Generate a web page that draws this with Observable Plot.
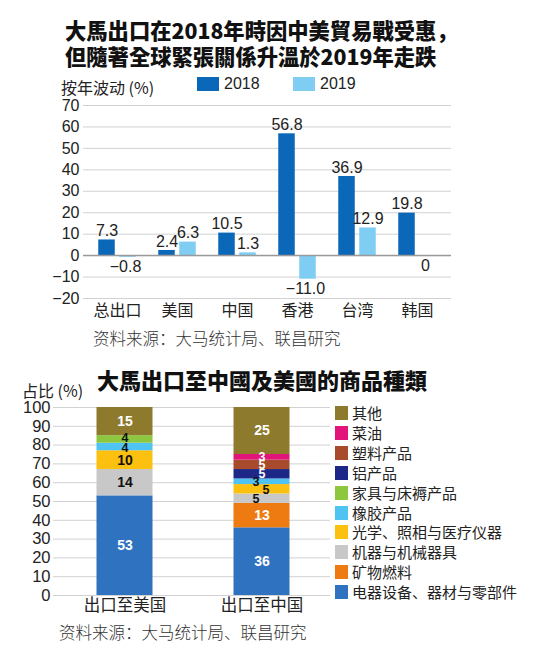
<!DOCTYPE html>
<html>
<head>
<meta charset="utf-8">
<script src="https://cdn.jsdelivr.net/npm/d3@7"></script>
<script src="https://cdn.jsdelivr.net/npm/@observablehq/plot@0.6"></script>
<style>
  html, body { margin: 0; padding: 0; background: #fff; }
  #root { position: relative; width: 534px; height: 657px; overflow: hidden; background: #fff;
          font-family: "Liberation Sans", "Noto Sans CJK SC", sans-serif; color: #222; }
  .abs { position: absolute; white-space: nowrap; line-height: 1; }
  .title { font-family: "Noto Sans CJK TC", "Noto Sans CJK SC", sans-serif; font-weight: 900; font-size: 21.3px; color: #111; }
  .title .p { font-family: "Noto Sans CJK SC", sans-serif; }
  .src { font-family: "Noto Sans CJK SC", sans-serif; font-size: 16.5px; color: #333; font-weight: 300; }
  .sw { position: absolute; }
  #chart1, #chart2 { position: absolute; left: 0; }
  #chart1 { top: 90px; }
  #chart2 { top: 395px; }
</style>
</head>
<body>
<div id="root">
  <div class="abs title" style="left:65px; top:19px;">大馬出口在2018年時因中美貿易戰受惠<span class="p">，</span></div>
  <div class="abs title" style="left:65px; top:45px;">但隨著全球緊張關係升溫於2019年走跌</div>
  <div class="abs" style="left:61px; top:79px; font-size:16px; font-family:'Noto Sans CJK SC','Liberation Sans',sans-serif;">按年波动 (%)</div>
  <div id="legend1"></div>
  <div id="chart1"></div>
  <div class="abs src" style="left:93px; top:330px;">资料来源：大马统计局、联昌研究</div>
  <div class="abs title" style="left:97px; top:368px; font-size:22px;">大馬出口至中國及美國的商品種類</div>
  <div class="abs" style="left:22px; top:382px; font-size:16px; font-family:'Noto Sans CJK SC','Liberation Sans',sans-serif;">占比 (%)</div>
  <div id="chart2"></div>
  <div id="legend2"></div>
  <div class="abs src" style="left:59px; top:624px;">资料来源：大马统计局、联昌研究</div>
</div>
<script>
// ---------- Data: chart 1 ----------
const categories = ["总出口", "美国", "中国", "香港", "台湾", "韩国"];
const years = ["2018", "2019"];
const values2018 = [7.3, 2.4, 10.5, 56.8, 36.9, 19.8];
const values2019 = [-0.8, 6.3, 1.3, -11.0, 12.9, 0];
const yTicks1 = [-20, -10, 0, 10, 20, 30, 40, 50, 60, 70];

// ---------- Data: chart 2 ----------
const countries = ["出口至美国", "出口至中国"];
const productSeries = ["电器设备、器材与零部件", "矿物燃料", "机器与机械器具", "光学、照相与医疗仪器", "橡胶产品", "家具与床褥产品", "铝产品", "塑料产品", "菜油", "其他"];
const usShares = [53, 0, 14, 10, 4, 4, 0, 0, 0, 15];
const cnShares = [36, 13, 5, 5, 3, 0, 5, 5, 3, 25];
const yTicks2 = [0, 10, 20, 30, 40, 50, 60, 70, 80, 90, 100];

// ---------- Styles ----------
const yearColors = ["#0b67b8", "#7fcdf2"];
const productColors = ["#2f72bf", "#ee7b11", "#c8c8c8", "#fcc010", "#4fc3f2", "#8dc63f", "#1d2788", "#a84a2c", "#e2157a", "#8e7a2d"];
const darkLabelSeries = new Set(["机器与机械器具", "光学、照相与医疗仪器", "橡胶产品", "家具与床褥产品"]);
const labelShift = {
  "出口至中国|橡胶产品": [-6, 0], "出口至中国|光学、照相与医疗仪器": [4, 1], "出口至中国|机器与机械器具": [-6, 0],
  "出口至美国|家具与床褥产品": [0, -1], "出口至美国|橡胶产品": [0, 1]
};
const fontFam = "'Liberation Sans', 'Noto Sans CJK SC', sans-serif";

// ---------- Chart 1 ----------
const rows1 = categories.flatMap((c, i) => [
  {cat: c, year: years[0], v: values2018[i]},
  {cat: c, year: years[1], v: values2019[i]}
]);
const fmt = v => v === 0 ? "0" : (v < 0 ? "\u2212" : "") + Math.abs(v).toFixed(1);
const r2018 = rows1.filter(d => d.year === years[0]);
const r2019 = rows1.filter(d => d.year === years[1]);

const chart1 = Plot.plot({
  width: 534, height: 235,
  marginTop: 15, marginBottom: 27, marginLeft: 83, marginRight: 83,
  style: {fontFamily: fontFam, fontSize: "16px", color: "#222", background: "transparent", overflow: "visible"},
  x: {domain: categories, range: [85, 448], padding: 0, label: null},
  y: {domain: [-20, 70], label: null},
  color: {domain: years, range: yearColors},
  marks: [
    Plot.gridY({ticks: yTicks1, stroke: "#d2d2d2", strokeOpacity: 1}),
    Plot.axisY({ticks: yTicks1, tickSize: 0, tickPadding: 4, fontSize: 16, label: null}),
    Plot.axisX({tickSize: 0, tickPadding: 6, fontSize: 16, label: null}),
    Plot.barY(r2018, {x: "cat", y: "v", fill: "year", insetLeft: 11.25, insetRight: 32.25}),
    Plot.barY(r2019, {x: "cat", y: "v", fill: "year", insetLeft: 32.25, insetRight: 11.25}),
    Plot.ruleY([0], {stroke: "#9a9a9a", strokeWidth: 1.5}),
    Plot.text(r2018.filter(d => d.v > 0), {x: "cat", y: "v", text: d => fmt(d.v), dx: -10.5, dy: -9, fontSize: 16, fill: "#222"}),
    Plot.text(r2018.filter(d => d.v <= 0), {x: "cat", y: "v", text: d => fmt(d.v), dx: -10.5, dy: 10, fontSize: 16, fill: "#222"}),
    Plot.text(r2019.filter(d => d.v > 0), {x: "cat", y: "v", text: d => fmt(d.v), dx: 10.5, dy: -9, fontSize: 16, fill: "#222"}),
    Plot.text(r2019.filter(d => d.v <= 0), {x: "cat", y: "v", text: d => fmt(d.v), dx: 8, dy: 10, fontSize: 16, fill: "#222"})
  ]
});
document.getElementById("chart1").appendChild(chart1);

// Legend 1
const leg1 = document.getElementById("legend1");
years.forEach((y, i) => {
  const left = 197 + i * 96;
  const sw = document.createElement("div");
  sw.className = "sw";
  sw.style.cssText = `left:${left}px; top:77px; width:22px; height:14px; background:${yearColors[i]};`;
  leg1.appendChild(sw);
  const t = document.createElement("div");
  t.className = "abs";
  t.style.cssText = `left:${left + 27}px; top:76px; font-size:16px;`;
  t.textContent = y;
  leg1.appendChild(t);
});

// ---------- Chart 2 ----------
const stack = [];
countries.forEach((c, ci) => {
  const vals = ci === 0 ? usShares : cnShares;
  let acc = 0;
  productSeries.forEach((s, si) => {
    const v = vals[si];
    if (v > 0) {
      stack.push({country: c, series: s, value: v, y1: acc, y2: acc + v, mid: acc + v / 2});
      acc += v;
    }
  });
});

const labelMarks = [];
const groups = d3.groups(stack, d => {
  const sh = labelShift[d.country + "|" + d.series] || [0, 0];
  const size = d.value <= 5 ? 12.5 : 14;
  return [darkLabelSeries.has(d.series) ? "#111" : "#fff", sh[0], sh[1], size].join("|");
});
for (const [key, arr] of groups) {
  const [fill, dx, dy, size] = key.split("|");
  labelMarks.push(Plot.text(arr, {x: "country", y: "mid", text: d => String(d.value), fill, dx: +dx, dy: +dy, fontSize: +size, fontWeight: "bold"}));
}

const chart2 = Plot.plot({
  width: 534, height: 225,
  marginTop: 12, marginBottom: 25, marginLeft: 53, marginRight: 204,
  style: {fontFamily: fontFam, fontSize: "16px", color: "#222", background: "transparent", overflow: "visible"},
  x: {domain: countries, range: [56, 330], padding: 0, label: null},
  y: {domain: [0, 100], label: null},
  color: {domain: productSeries, range: productColors},
  marks: [
    Plot.gridY({ticks: yTicks2, stroke: "#d2d2d2", strokeOpacity: 1}),
    Plot.axisY({ticks: yTicks2, tickSize: 0, tickPadding: 3, fontSize: 16.5, label: null}),
    Plot.axisX({tickSize: 0, tickPadding: 4, fontSize: 16.5, label: null}),
    Plot.barY(stack, {x: "country", y1: "y1", y2: "y2", fill: "series", insetLeft: 40.5, insetRight: 40.5}),
    ...labelMarks
  ]
});
document.getElementById("chart2").appendChild(chart2);

// Legend 2 (top to bottom: reverse stacking order)
const leg2 = document.getElementById("legend2");
productSeries.slice().reverse().forEach((s, i) => {
  const idx = productSeries.indexOf(s);
  const cy = 413 + i * 19.9;
  const sw = document.createElement("div");
  sw.className = "sw";
  sw.style.cssText = `left:335px; top:${cy - 7}px; width:13px; height:14px; background:${productColors[idx]};`;
  leg2.appendChild(sw);
  const t = document.createElement("div");
  t.className = "abs";
  t.style.cssText = `left:352px; top:${cy - 8}px; font-size:15px; font-family:'Noto Sans CJK SC',sans-serif; color:#222;`;
  t.textContent = s;
  leg2.appendChild(t);
});
</script>
</body>
</html>
